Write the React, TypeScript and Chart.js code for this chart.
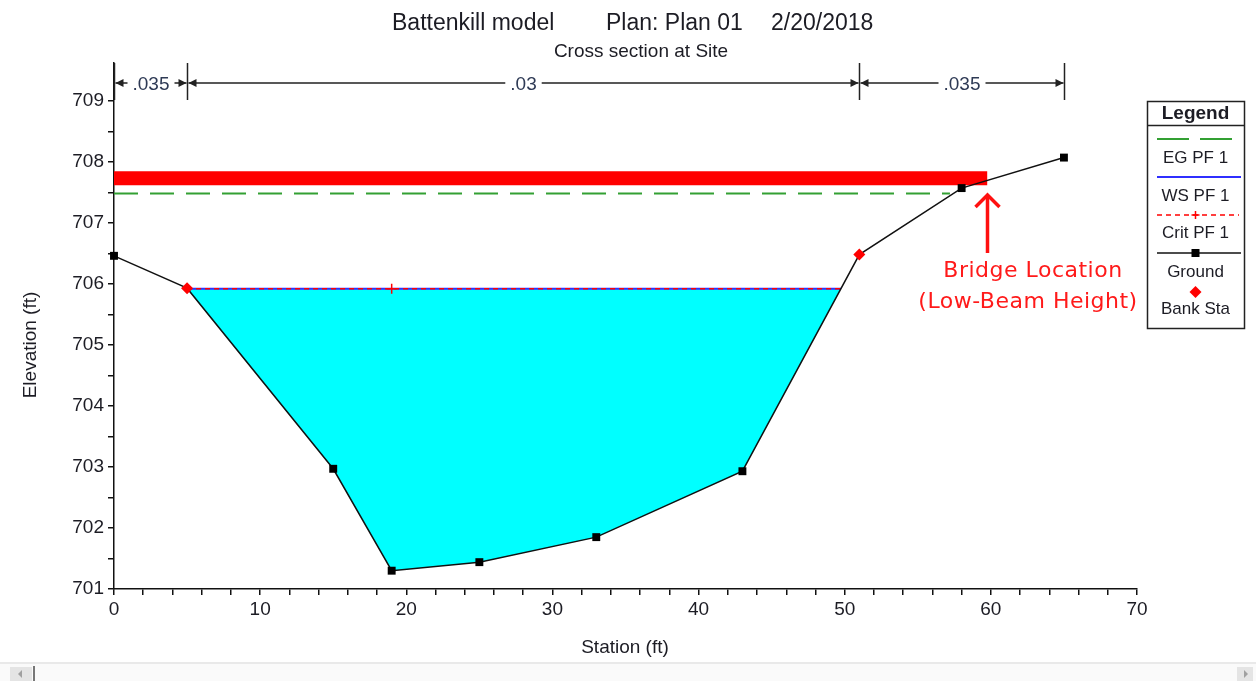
import React, { useEffect, useRef } from 'react';
import { Chart, registerables } from 'chart.js';

Chart.register(...registerables);

// ---------- data ----------
const groundStation = [0, 5, 15, 19, 25, 33, 43, 51, 58, 65];
const groundElev = [706.46, 705.93, 702.97, 701.3, 701.44, 701.85, 702.93, 706.48, 707.57, 708.07];
const bankStation = [5, 51];
const bankElev = [705.93, 706.48];
const wsElev = 705.92;
const wsStations = [5, 49.74];
const critElev = 705.92;
const critStations = [5, 19, 49.74];
const egElev = 707.48;
const egStations = [0, 57.2];
const bridgeStations = [0, 59.75];
const bridgeLowChord = 707.73;
const nBreaks = [0, 5, 51, 65];
const nValues = ['.035', '.03', '.035'];
const xTicks = [0, 2, 4, 6, 8, 10, 12, 14, 16, 18, 20, 22, 24, 26, 28, 30, 32, 34, 36, 38, 40, 42, 44, 46, 48, 50, 52, 54, 56, 58, 60, 62, 64, 66, 68, 70];
const xLabels = [0, 10, 20, 30, 40, 50, 60, 70];
const yTicks = [701, 701.5, 702, 702.5, 703, 703.5, 704, 704.5, 705, 705.5, 706, 706.5, 707, 707.5, 708, 708.5, 709];
const yLabels = [701, 702, 703, 704, 705, 706, 707, 708, 709];

const FONT = '"Liberation Sans", Arial, sans-serif';
const TEXT = '#1c1c24';
const GREEN = '#33a033';
const BLUE = '#2f2fff';
const RED = '#ff0000';

function arrowHead(ctx: CanvasRenderingContext2D, x: number, y: number, dir: number) {
  ctx.beginPath();
  ctx.moveTo(x, y);
  ctx.lineTo(x - dir * 8, y - 4);
  ctx.lineTo(x - dir * 8, y + 4);
  ctx.closePath();
  ctx.fill();
}

const decorations = {
  id: 'decorations',
  afterDraw(chart: any) {
    const ctx: CanvasRenderingContext2D = chart.ctx;
    const xs = chart.scales.x;
    ctx.save();

    // titles
    ctx.fillStyle = TEXT;
    ctx.font = `23px ${FONT}`;
    ctx.textAlign = 'left';
    ctx.textBaseline = 'alphabetic';
    ctx.fillText('Battenkill model', 392, 30);
    ctx.fillText('Plan: Plan 01', 606, 30);
    ctx.fillText('2/20/2018', 771, 30);
    ctx.font = `19px ${FONT}`;
    ctx.textAlign = 'center';
    ctx.fillText('Cross section at Site', 641, 57);

    // axis titles
    ctx.textBaseline = 'middle';
    ctx.fillText('Station (ft)', 625, 648);
    ctx.save();
    ctx.translate(31, 345);
    ctx.rotate(-Math.PI / 2);
    ctx.fillText('Elevation (ft)', 0, 0);
    ctx.restore();

    // Manning's n brackets
    const ny = 83;
    ctx.strokeStyle = '#222';
    ctx.fillStyle = '#222';
    ctx.lineWidth = 1.5;
    const bx = nBreaks.map((s) => Math.round(xs.getPixelForValue(s)) + 0.5);
    bx.forEach((x) => {
      ctx.beginPath();
      ctx.moveTo(x, 63);
      ctx.lineTo(x, 100);
      ctx.stroke();
    });
    ctx.font = `19px ${FONT}`;
    for (let i = 0; i < nValues.length; i++) {
      const a = bx[i] + 1;
      const b = bx[i + 1] - 1;
      const mid = (a + b) / 2;
      const w = ctx.measureText(nValues[i]).width;
      ctx.beginPath();
      ctx.moveTo(a, ny);
      ctx.lineTo(mid - w / 2 - 5, ny);
      ctx.moveTo(mid + w / 2 + 5, ny);
      ctx.lineTo(b, ny);
      ctx.stroke();
      arrowHead(ctx, a, ny, -1);
      arrowHead(ctx, b, ny, 1);
      ctx.fillStyle = '#2e3a55';
      ctx.fillText(nValues[i], mid, ny + 2);
      ctx.fillStyle = '#222';
    }

    // Legend box
    const lx0 = 1147, lx1 = 1244, ly0 = 101, ly1 = 328;
    const lc = (lx0 + lx1) / 2;
    ctx.strokeStyle = '#222';
    ctx.lineWidth = 1.5;
    ctx.strokeRect(lx0 + 0.5, ly0 + 0.5, lx1 - lx0, ly1 - ly0);
    ctx.beginPath();
    ctx.moveTo(lx0, 125.5);
    ctx.lineTo(lx1, 125.5);
    ctx.stroke();
    ctx.fillStyle = TEXT;
    ctx.font = `bold 19px ${FONT}`;
    ctx.fillText('Legend', lc, 114);
    ctx.font = `17px ${FONT}`;
    // EG
    ctx.strokeStyle = GREEN;
    ctx.lineWidth = 2;
    ctx.setLineDash([32, 11]);
    ctx.beginPath();
    ctx.moveTo(1157, 139);
    ctx.lineTo(1233, 139);
    ctx.stroke();
    ctx.setLineDash([]);
    ctx.fillText('EG PF 1', lc, 158);
    // WS
    ctx.strokeStyle = BLUE;
    ctx.beginPath();
    ctx.moveTo(1157, 177);
    ctx.lineTo(1241, 177);
    ctx.stroke();
    ctx.fillText('WS PF 1', lc, 196);
    // Crit
    ctx.strokeStyle = RED;
    ctx.lineWidth = 1.5;
    ctx.setLineDash([5, 4]);
    ctx.beginPath();
    ctx.moveTo(1157, 215);
    ctx.lineTo(1239, 215);
    ctx.stroke();
    ctx.setLineDash([]);
    ctx.beginPath();
    ctx.moveTo(lc - 4, 215);
    ctx.lineTo(lc + 4, 215);
    ctx.moveTo(lc, 211);
    ctx.lineTo(lc, 219);
    ctx.stroke();
    ctx.fillText('Crit PF 1', lc, 233);
    // Ground
    ctx.strokeStyle = '#111';
    ctx.beginPath();
    ctx.moveTo(1157, 253);
    ctx.lineTo(1241, 253);
    ctx.stroke();
    ctx.fillStyle = '#000';
    ctx.fillRect(lc - 4, 249, 8, 8);
    ctx.fillStyle = TEXT;
    ctx.fillText('Ground', lc, 272);
    // Bank
    ctx.fillStyle = RED;
    ctx.beginPath();
    ctx.moveTo(lc, 286);
    ctx.lineTo(lc + 6, 292);
    ctx.lineTo(lc, 298);
    ctx.lineTo(lc - 6, 292);
    ctx.closePath();
    ctx.fill();
    ctx.fillStyle = TEXT;
    ctx.fillText('Bank Sta', lc, 309);

    // Bridge annotation
    const ax = Math.round(xs.getPixelForValue(bridgeStations[1])) + 0.5;
    ctx.strokeStyle = '#ff1010';
    ctx.lineWidth = 3.5;
    ctx.lineCap = 'butt';
    ctx.beginPath();
    ctx.moveTo(ax, 253);
    ctx.lineTo(ax, 196);
    ctx.stroke();
    ctx.beginPath();
    ctx.moveTo(ax - 12, 207);
    ctx.lineTo(ax, 195);
    ctx.lineTo(ax + 12, 207);
    ctx.stroke();
    ctx.fillStyle = '#ff1a1a';
    ctx.font = '22px "DejaVu Sans", Verdana, sans-serif';
    (ctx as any).letterSpacing = '0.5px';
    ctx.textBaseline = 'alphabetic';
    ctx.fillText('Bridge Location', 1033, 277);
    ctx.fillText('(Low-Beam Height)', 1028, 308);
    (ctx as any).letterSpacing = '0px';

    // scrollbar strip
    ctx.fillStyle = '#e9e9e9';
    ctx.fillRect(0, 662, 1256, 2);
    ctx.fillStyle = '#fafafa';
    ctx.fillRect(0, 664, 1256, 17);
    ctx.fillStyle = '#e4e4e4';
    ctx.fillRect(10, 667, 22, 14);
    ctx.fillRect(1237, 667, 16, 14);
    ctx.fillStyle = '#a0a0a0';
    ctx.beginPath();
    ctx.moveTo(18, 674);
    ctx.lineTo(22, 670);
    ctx.lineTo(22, 678);
    ctx.closePath();
    ctx.fill();
    ctx.beginPath();
    ctx.moveTo(1248, 674);
    ctx.lineTo(1244, 670);
    ctx.lineTo(1244, 678);
    ctx.closePath();
    ctx.fill();
    ctx.fillStyle = '#777';
    ctx.fillRect(33, 666, 2, 15);

    ctx.restore();
  },
};

export default function App() {
  const ref = useRef<HTMLCanvasElement | null>(null);

  useEffect(() => {
    document.body.style.margin = '0';
    const canvas = ref.current;
    if (!canvas) return;

    const ground = groundStation.map((x, i) => ({ x, y: groundElev[i] }));
    const water = [
      { x: wsStations[0], y: wsElev },
      ...ground.filter((p) => p.x > wsStations[0] && p.x < wsStations[1]),
      { x: wsStations[1], y: wsElev },
    ];

    const chart = new Chart(canvas, {
      type: 'line',
      data: {
        datasets: [
          {
            label: 'Water',
            data: water,
            borderWidth: 0,
            borderColor: 'rgba(0,0,0,0)',
            backgroundColor: '#00ffff',
            pointRadius: 0,
            fill: { value: wsElev },
            order: 10,
          } as any,
          {
            label: 'Bridge',
            data: bridgeStations.map((x) => ({ x, y: bridgeLowChord })),
            borderColor: RED,
            borderWidth: 14,
            borderCapStyle: 'butt',
            pointRadius: 0,
            fill: false,
            order: 9,
          },
          {
            label: 'EG PF 1',
            data: egStations.map((x) => ({ x, y: egElev })),
            borderColor: GREEN,
            borderWidth: 2,
            borderDash: [24, 12],
            pointRadius: 0,
            fill: false,
            order: 8,
          },
          {
            label: 'WS PF 1',
            data: wsStations.map((x) => ({ x, y: wsElev })),
            borderColor: BLUE,
            borderWidth: 2,
            pointRadius: 0,
            fill: false,
            order: 7,
          },
          {
            label: 'Crit PF 1',
            data: critStations.map((x) => ({ x, y: critElev })),
            borderColor: RED,
            borderWidth: 1.5,
            borderDash: [5, 4],
            pointStyle: 'cross',
            pointRadius: (c: any) => (c.dataIndex === 1 ? 5 : 0),
            pointBorderColor: RED,
            pointBorderWidth: 1.5,
            fill: false,
            order: 6,
          },
          {
            label: 'Ground',
            data: ground,
            clip: false,
            borderColor: '#111',
            borderWidth: 1.5,
            pointStyle: 'rect',
            pointRadius: (c: any) => (bankStation.includes(groundStation[c.dataIndex]) ? 0 : 5.6),
            pointBackgroundColor: '#000',
            pointBorderColor: '#000',
            pointBorderWidth: 0,
            fill: false,
            order: 5,
          } as any,
          {
            label: 'Bank Sta',
            data: bankStation.map((x, i) => ({ x, y: bankElev[i] })),
            showLine: false,
            pointStyle: 'rectRot',
            pointRadius: 6,
            pointBackgroundColor: RED,
            pointBorderColor: RED,
            pointBorderWidth: 0,
            order: 4,
          },
        ],
      },
      options: {
        animation: false,
        responsive: false,
        devicePixelRatio: 1,
        layout: { padding: { left: 0, right: 119, top: 63, bottom: 0 } },
        plugins: {
          legend: { display: false },
          tooltip: { enabled: false },
          title: { display: false },
        },
        scales: {
          x: {
            type: 'linear',
            min: 0,
            max: 70,
            afterBuildTicks: (s: any) => {
              s.ticks = xTicks.map((v) => ({ value: v }));
            },
            afterFit: (s: any) => {
              s.height = 92;
            },
            ticks: {
              autoSkip: false,
              maxRotation: 0,
              padding: 3,
              color: TEXT,
              font: { family: FONT, size: 19 },
              callback: (v: any) => (xLabels.includes(Number(v)) ? String(v) : ''),
            },
            grid: { display: true, drawOnChartArea: false, drawTicks: true, tickLength: 6, color: '#111', lineWidth: 1.5 },
            border: { display: true, color: '#111', width: 1.5 },
          },
          y: {
            type: 'linear',
            min: 701,
            max: 709.62,
            afterBuildTicks: (s: any) => {
              s.ticks = yTicks.map((v) => ({ value: v }));
            },
            afterFit: (s: any) => {
              s.width = 114;
            },
            ticks: {
              autoSkip: false,
              padding: 4,
              color: TEXT,
              font: { family: FONT, size: 19 },
              callback: (v: any) => (yLabels.includes(Number(v)) ? String(v) : ''),
            },
            grid: { display: true, drawOnChartArea: false, drawTicks: true, tickLength: 6, color: '#111', lineWidth: 1.5 },
            border: { display: true, color: '#111', width: 1.5 },
          },
        },
      } as any,
      plugins: [decorations],
    });

    return () => chart.destroy();
  }, []);

  return (
    <div style={{ width: 1256, height: 681, position: 'relative', background: '#fff' }}>
      <canvas ref={ref} width={1256} height={681} style={{ display: 'block', width: 1256, height: 681 }} />
    </div>
  );
}
